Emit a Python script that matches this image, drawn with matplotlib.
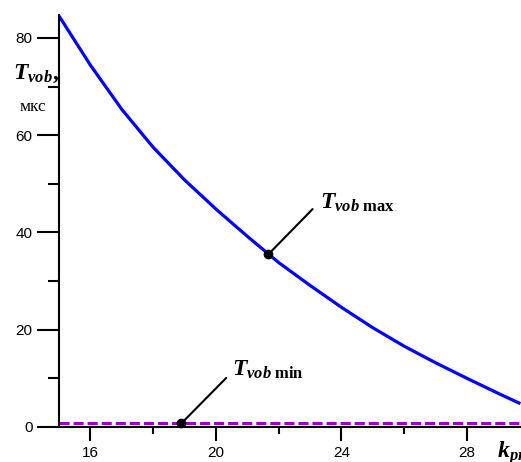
import matplotlib
matplotlib.use("Agg")
import matplotlib.pyplot as plt
from matplotlib.ticker import MultipleLocator

plt.rcParams['mathtext.fontset'] = 'custom'
plt.rcParams['mathtext.rm'] = 'Liberation Serif'
plt.rcParams['mathtext.it'] = 'Liberation Serif:italic'
plt.rcParams['mathtext.bf'] = 'Liberation Serif:bold'
plt.rcParams['mathtext.bfit'] = 'Liberation Serif:bold:italic'

# data
k_pr = [15, 16, 17, 18, 19, 20, 21, 22, 23, 24, 25, 26, 27, 28, 29, 29.7]
T_vob_max = [84.5, 74.4, 65.3, 57.5, 50.8, 44.8, 39.2, 33.8, 29.1, 24.6, 20.4, 16.6, 13.2, 10.0, 6.9, 4.8]
T_vob_min = 0.75
max_point = (21.67, 35.5)
min_point = (18.9, 0.75)
x_ticks = [16, 20, 24, 28]
y_ticks = [0, 20, 40, 60, 80]

fig = plt.figure(figsize=(5.21, 4.62), dpi=100)
ax = fig.add_axes([59/521, 35/462, 1 - 59/521, (427-15)/462])
ax.set_xlim(15, 29.72)
ax.set_ylim(0, 84.7)

ax.plot(k_pr, T_vob_max, color='#0000ff', lw=2.3, solid_capstyle='butt', solid_joinstyle='round')
ax.axhline(T_vob_min, color='#9900cc', lw=2.2, ls=(0, (3.3, 1.3)), clip_on=False)

ax.plot(*max_point, 'o', color='black', ms=6, zorder=5)
ax.plot(*min_point, 'o', color='black', ms=6, zorder=5, clip_on=False)

ax.annotate('', xy=max_point, xytext=(23.08, 44.8),
            arrowprops=dict(arrowstyle='-', color='black', lw=1.5, shrinkA=0, shrinkB=0))
ax.annotate('', xy=min_point, xytext=(20.33, 10.1),
            arrowprops=dict(arrowstyle='-', color='black', lw=1.5, shrinkA=0, shrinkB=0))

ax.text(320/521, 1 - 209/462, r'$\mathbfit{T}_{\mathbfit{vob}\ \mathbf{max}}$',
        transform=fig.transFigure, fontsize=17, va='baseline', ha='left')
ax.text(232/521, 1 - 376/462, r'$\mathbfit{T}_{\mathbfit{vob}\ \mathbf{min}}$',
        transform=fig.transFigure, fontsize=17, va='baseline', ha='left')
fig.text(13/521, 1 - 79/462, r'$\mathbfit{T}_{\mathbfit{vob}}\mathbf{,}$',
         fontsize=17, va='baseline', ha='left')
fig.text(33/521, 1 - 111/462, 'мкс', family='Liberation Serif', fontsize=12.5,
         va='baseline', ha='center')
fig.text(497/521, 1 - 458/462, r'$\mathbfit{k}_{\mathbfit{pr}}$',
         fontsize=17, va='baseline', ha='left')

for sp in ['top', 'right']:
    ax.spines[sp].set_visible(False)
for sp in ['left', 'bottom']:
    ax.spines[sp].set_linewidth(1.5)

ax.set_xticks(x_ticks)
ax.set_yticks(y_ticks)
ax.xaxis.set_minor_locator(MultipleLocator(2))
ax.yaxis.set_minor_locator(MultipleLocator(10))
ax.tick_params(axis='both', which='major', direction='out', width=1.5, labelsize=11,
               labelfontfamily='Liberation Sans')
ax.tick_params(axis='x', which='major', length=10, pad=4)
ax.tick_params(axis='x', which='minor', length=5, width=1.5)
ax.tick_params(axis='y', which='major', length=16, pad=3)
ax.tick_params(axis='y', which='minor', length=8, width=1.5)

plt.savefig('out.png', dpi=100)
